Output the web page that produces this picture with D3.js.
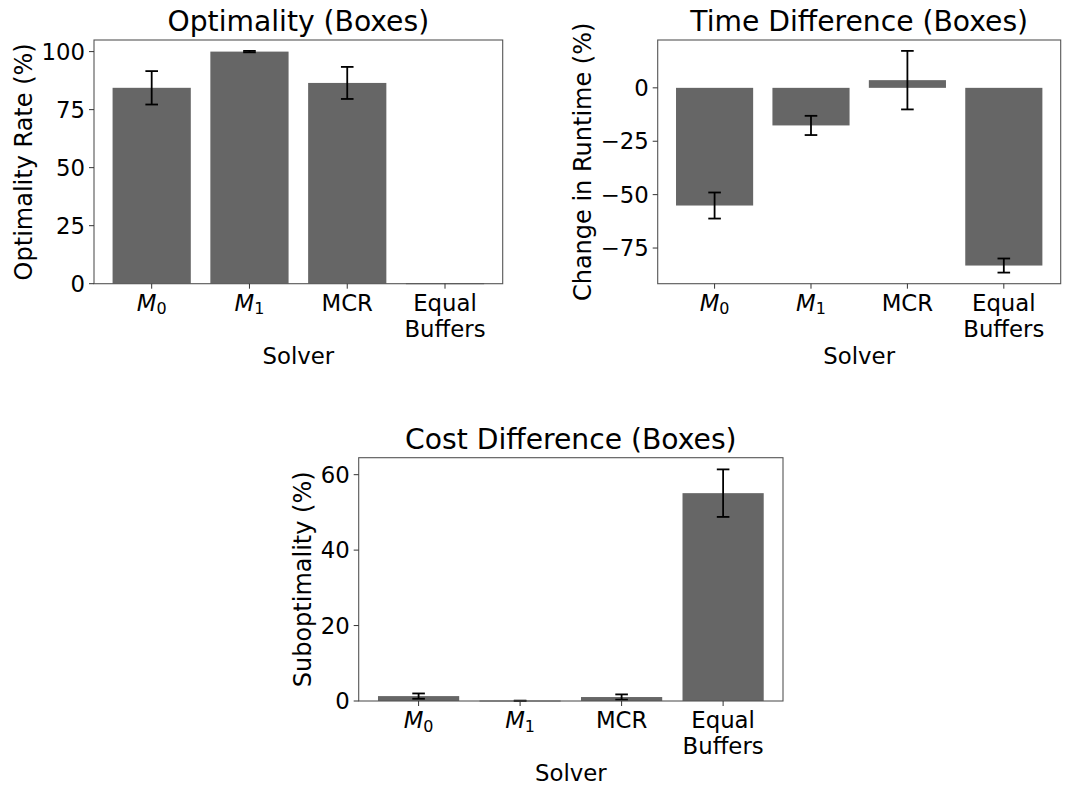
<!DOCTYPE html>
<html><head><meta charset="utf-8">
<script src="https://cdn.jsdelivr.net/npm/d3@7"></script>
<style>
body{margin:0;background:#fff;}
text{font-family:"DejaVu Sans",sans-serif;fill:#000;}
</style></head>
<body><svg id="c" width="1073" height="797"></svg>
<script>
const solvers = ["M0","M1","MCR","Equal Buffers"];
const optimalityValues = [84.4, 100, 86.5, 0];
const optimalityErrors = [7.2, 0.3, 6.9, 0];
const timeValues = [-55.1, -17.6, 3.6, -83.2];
const timeErrors = [6.1, 4.5, 13.7, 3.3];
const costValues = [1.3, 0.05, 1.05, 55.1];
const costErrors = [0.7, 0.05, 0.7, 6.3];
const optimalityTicks = [0, 25, 50, 75, 100];
const timeTicks = [-75, -50, -25, 0];
const costTicks = [0, 20, 40, 60];

const svg = d3.select("#c");
const FS = 22.8, YFS = 24, TFS = 28.2;

function panel(o){
  const g = svg.append("g");
  const x = d3.scaleLinear().domain([-0.59, 3.59]).range([o.left, o.right]);
  const y = d3.scaleLinear().domain(o.domain).range([o.bottom, o.top]);
  const bw = x(0.4) - x(-0.4);
  solvers.forEach((s,i)=>{
    const v = o.values[i];
    const y0 = y(0), y1 = y(v);
    let top = Math.min(y0,y1), h = Math.abs(y1-y0);
    if (h < 1) { h = 1; top = y0 - 0.5; }
    g.append("rect").attr("x", x(i)-bw/2).attr("y", top).attr("width", bw).attr("height", h).attr("fill", "#666666");
  });
  solvers.forEach((s,i)=>{
    const v = o.values[i], e = o.errors[i];
    if (e <= 0) return;
    const cx = x(i);
    g.append("line").attr("x1",cx).attr("x2",cx).attr("y1",y(v-e)).attr("y2",y(v+e)).attr("stroke","#000").attr("stroke-width",1.8);
    [v-e, v+e].forEach(t=>{
      g.append("line").attr("x1",cx-6.3).attr("x2",cx+6.3).attr("y1",y(t)).attr("y2",y(t)).attr("stroke","#000").attr("stroke-width",1.8);
    });
  });
  g.append("rect").attr("x",o.left).attr("y",o.top).attr("width",o.right-o.left).attr("height",o.bottom-o.top)
   .attr("fill","none").attr("stroke","#555").attr("stroke-width",1.1);
  o.ticks.forEach(t=>{
    const yy = y(t);
    g.append("line").attr("x1",o.left-5).attr("x2",o.left).attr("y1",yy).attr("y2",yy).attr("stroke","#333").attr("stroke-width",1);
    g.append("text").attr("x",o.left-9).attr("y",yy).attr("dy","0.36em").attr("text-anchor","end").attr("font-size",FS)
     .text(d3.format("d")(t));
  });
  solvers.forEach((s,i)=>{
    const cx = x(i);
    g.append("line").attr("x1",cx).attr("x2",cx).attr("y1",o.bottom).attr("y2",o.bottom+5).attr("stroke","#333").attr("stroke-width",1);
    const t = g.append("text").attr("x",cx).attr("y",o.bottom+27).attr("text-anchor","middle").attr("font-size",FS);
    if (s === "M0" || s === "M1") {
      t.append("tspan").attr("font-style","italic").text("M");
      t.append("tspan").attr("font-size",FS*0.7).attr("dy",3.5).text(s.slice(1));
    } else if (s === "Equal Buffers") {
      t.append("tspan").attr("x",cx).text("Equal");
      t.append("tspan").attr("x",cx).attr("dy",26).text("Buffers");
    } else {
      t.text(s);
    }
  });
  g.append("text").attr("x",(o.left+o.right)/2).attr("y",o.bottom+80).attr("text-anchor","middle").attr("font-size",FS).text("Solver");
  const cy = (o.top+o.bottom)/2;
  g.append("text").attr("transform",`translate(${o.ylabelX},${cy}) rotate(-90)`).attr("text-anchor","middle").attr("font-size",YFS).text(o.ylabel);
  g.append("text").attr("x",(o.left+o.right)/2).attr("y",o.top-9).attr("text-anchor","middle").attr("font-size",TFS).text(o.title);
}

panel({left:94, right:502.7, top:40, bottom:283.7, domain:[0,105], values:optimalityValues, errors:optimalityErrors,
  ticks:optimalityTicks, title:"Optimality (Boxes)", ylabel:"Optimality Rate (%)", ylabelX:32});
panel({left:657.7, right:1060.7, top:40, bottom:283.7, domain:[-91.7,22.4], values:timeValues, errors:timeErrors,
  ticks:timeTicks, title:"Time Difference (Boxes)", ylabel:"Change in Runtime (%)", ylabelX:591});
panel({left:358.7, right:783, top:457.7, bottom:701, domain:[0,64.5], values:costValues, errors:costErrors,
  ticks:costTicks, title:"Cost Difference (Boxes)", ylabel:"Suboptimality (%)", ylabelX:311});
</script></body></html>
